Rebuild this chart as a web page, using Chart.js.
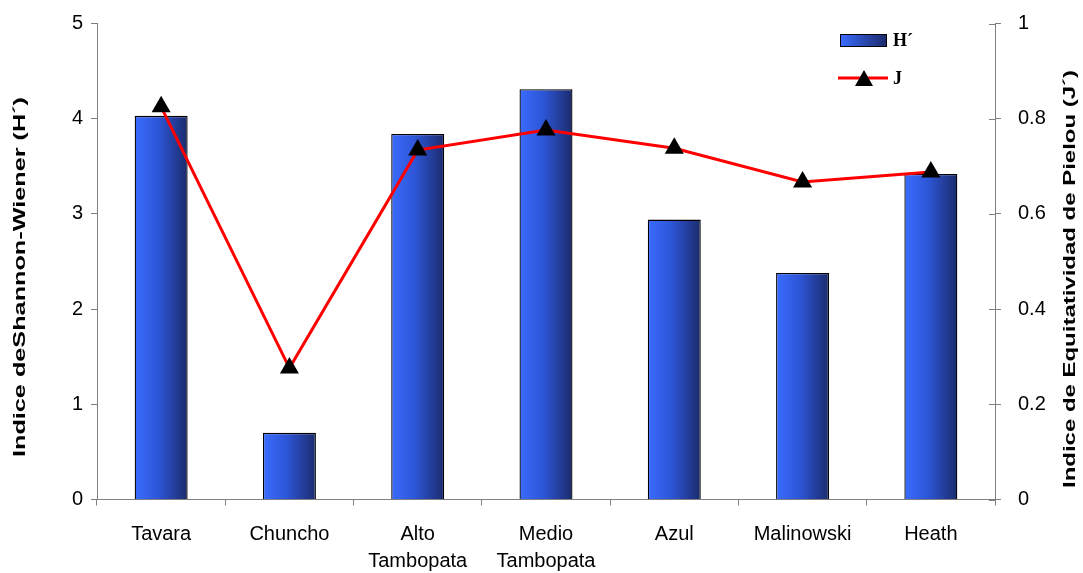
<!DOCTYPE html>
<html><head><meta charset="utf-8">
<script src="https://cdn.jsdelivr.net/npm/chart.js@4/dist/chart.umd.min.js"></script>
<style>html,body{margin:0;padding:0;background:#fff}#w{width:1083px;height:573px}</style>
</head><body><div id="w"><canvas id="c" width="1083" height="573"></canvas></div>
<script>
const categories = ["Tavara", "Chuncho", ["Alto", "Tambopata"], ["Medio", "Tambopata"], "Azul", "Malinowski", "Heath"];
const shannonH = [4.03, 0.70, 3.84, 4.31, 2.94, 2.38, 3.42];
const pielouJ = [0.825, 0.276, 0.734, 0.776, 0.738, 0.667, 0.688];
const leftTicks = [0, 1, 2, 3, 4, 5];
const rightTicks = [0, 0.2, 0.4, 0.6, 0.8, 1];
const seriesNames = ["H´", "J"];
const leftTitle = "Indice deShannon-Wiener (H´)";
const rightTitle = "Indice de Equitatividad de Pielou (J´)";

const BAR_PCT = 0.413;
const LIGHT = '#3a6cff', DARK = '#1b2b6c';
const SANS = '"Liberation Sans", Arial, sans-serif';

function barGradient(ctx) {
  const chart = ctx.chart;
  const xs = chart.scales.x;
  if (!xs || !chart.chartArea || ctx.dataIndex === undefined) return LIGHT;
  const cx = xs.getPixelForValue(ctx.dataIndex);
  const w = xs.width / categories.length * BAR_PCT;
  const g = chart.ctx.createLinearGradient(cx - w / 2, 0, cx + w / 2, 0);
  g.addColorStop(0, LIGHT);
  g.addColorStop(0.45, '#2d55d6');
  g.addColorStop(1, DARK);
  return g;
}

function verticalText(c, text, cx, cy, len) {
  c.save();
  c.font = 'bold 17px ' + SANS;
  const w = c.measureText(text).width;
  c.translate(cx, cy);
  c.rotate(-Math.PI / 2);
  c.scale(len / w, 1);
  c.textAlign = 'center';
  c.textBaseline = 'middle';
  c.fillStyle = '#000';
  c.fillText(text, 0, 0);
  c.restore();
}

const extrasPlugin = {
  id: 'extras',
  afterDraw(chart) {
    const c = chart.ctx;
    c.save();
    const y1 = chart.scales.y1;
    c.strokeStyle = '#808080'; c.lineWidth = 1;
    rightTicks.forEach(v => {
      const py = Math.round(y1.getPixelForValue(v)) + 0.5;
      c.beginPath(); c.moveTo(y1.left - 6, py); c.lineTo(y1.left, py); c.stroke();
    });
    verticalText(c, leftTitle, 20, 277, 360);
    verticalText(c, rightTitle, 1070, 279, 418);
    const g = c.createLinearGradient(840, 0, 886, 0);
    g.addColorStop(0, LIGHT); g.addColorStop(1, DARK);
    c.fillStyle = g;
    c.fillRect(840, 34, 46, 12);
    c.strokeStyle = '#000'; c.lineWidth = 1;
    c.strokeRect(840.5, 34.5, 46, 12);
    c.fillStyle = '#000';
    c.font = 'bold 18px "Liberation Serif", serif';
    c.textBaseline = 'middle';
    c.fillText(seriesNames[0], 893, 41);
    c.strokeStyle = '#ff0000'; c.lineWidth = 3;
    c.beginPath(); c.moveTo(838, 78); c.lineTo(888, 78); c.stroke();
    c.fillStyle = '#000';
    c.beginPath(); c.moveTo(864, 70); c.lineTo(873, 86); c.lineTo(855, 86); c.closePath(); c.fill();
    c.fillText(seriesNames[1], 893, 79);
    c.restore();
  }
};

function fixV(w) {
  return function (s) { s.width = w; s.paddingTop = 0; s.paddingBottom = 0; };
}

const axisGray = '#808080';
new Chart(document.getElementById('c'), {
  type: 'bar',
  data: {
    labels: categories,
    datasets: [
      {
        type: 'line', label: seriesNames[1], data: pielouJ, yAxisID: 'y1', order: 0,
        borderColor: '#ff0000', borderWidth: 3, tension: 0,
        pointStyle: 'triangle', pointRadius: 11, pointBackgroundColor: '#000', pointBorderColor: '#000', pointBorderWidth: 0
      },
      {
        type: 'bar', label: seriesNames[0], data: shannonH, yAxisID: 'y', order: 1,
        backgroundColor: barGradient, borderColor: '#000', borderWidth: 1.3,
        barPercentage: BAR_PCT, categoryPercentage: 1
      }
    ]
  },
  options: {
    responsive: false, animation: false, devicePixelRatio: 1,
    layout: { padding: { top: 23.5, left: 0, right: 0, bottom: 0 } },
    plugins: { legend: { display: false }, tooltip: { enabled: false } },
    scales: {
      x: {
        grid: { drawOnChartArea: false, drawTicks: true, tickLength: 6, color: axisGray, offset: true },
        border: { color: axisGray, width: 1 },
        ticks: { color: '#000', font: { family: SANS, size: 20, lineHeight: 1.35 }, padding: 15, maxRotation: 0, autoSkip: false },
        afterFit(s) { s.height = 73.5; s.paddingLeft = 0; s.paddingRight = 0; }
      },
      y: {
        position: 'left', min: 0, max: 5,
        afterBuildTicks(s) { s.ticks = leftTicks.map(v => ({ value: v })); },
        grid: { drawOnChartArea: false, tickLength: 6, color: axisGray },
        border: { color: axisGray, width: 1 },
        ticks: { color: '#000', font: { family: SANS, size: 20 }, padding: 8 },
        afterFit: fixV(97)
      },
      y1: {
        position: 'right', min: 0, max: 1,
        afterBuildTicks(s) { s.ticks = rightTicks.map(v => ({ value: v })); },
        grid: { drawOnChartArea: false, tickLength: 6, color: axisGray },
        border: { color: axisGray, width: 1 },
        ticks: { color: '#000', font: { family: SANS, size: 20 }, padding: 17, callback: v => String(+(+v).toFixed(1)) },
        afterFit: fixV(88)
      }
    }
  },
  plugins: [extrasPlugin]
});
</script>
</body></html>
